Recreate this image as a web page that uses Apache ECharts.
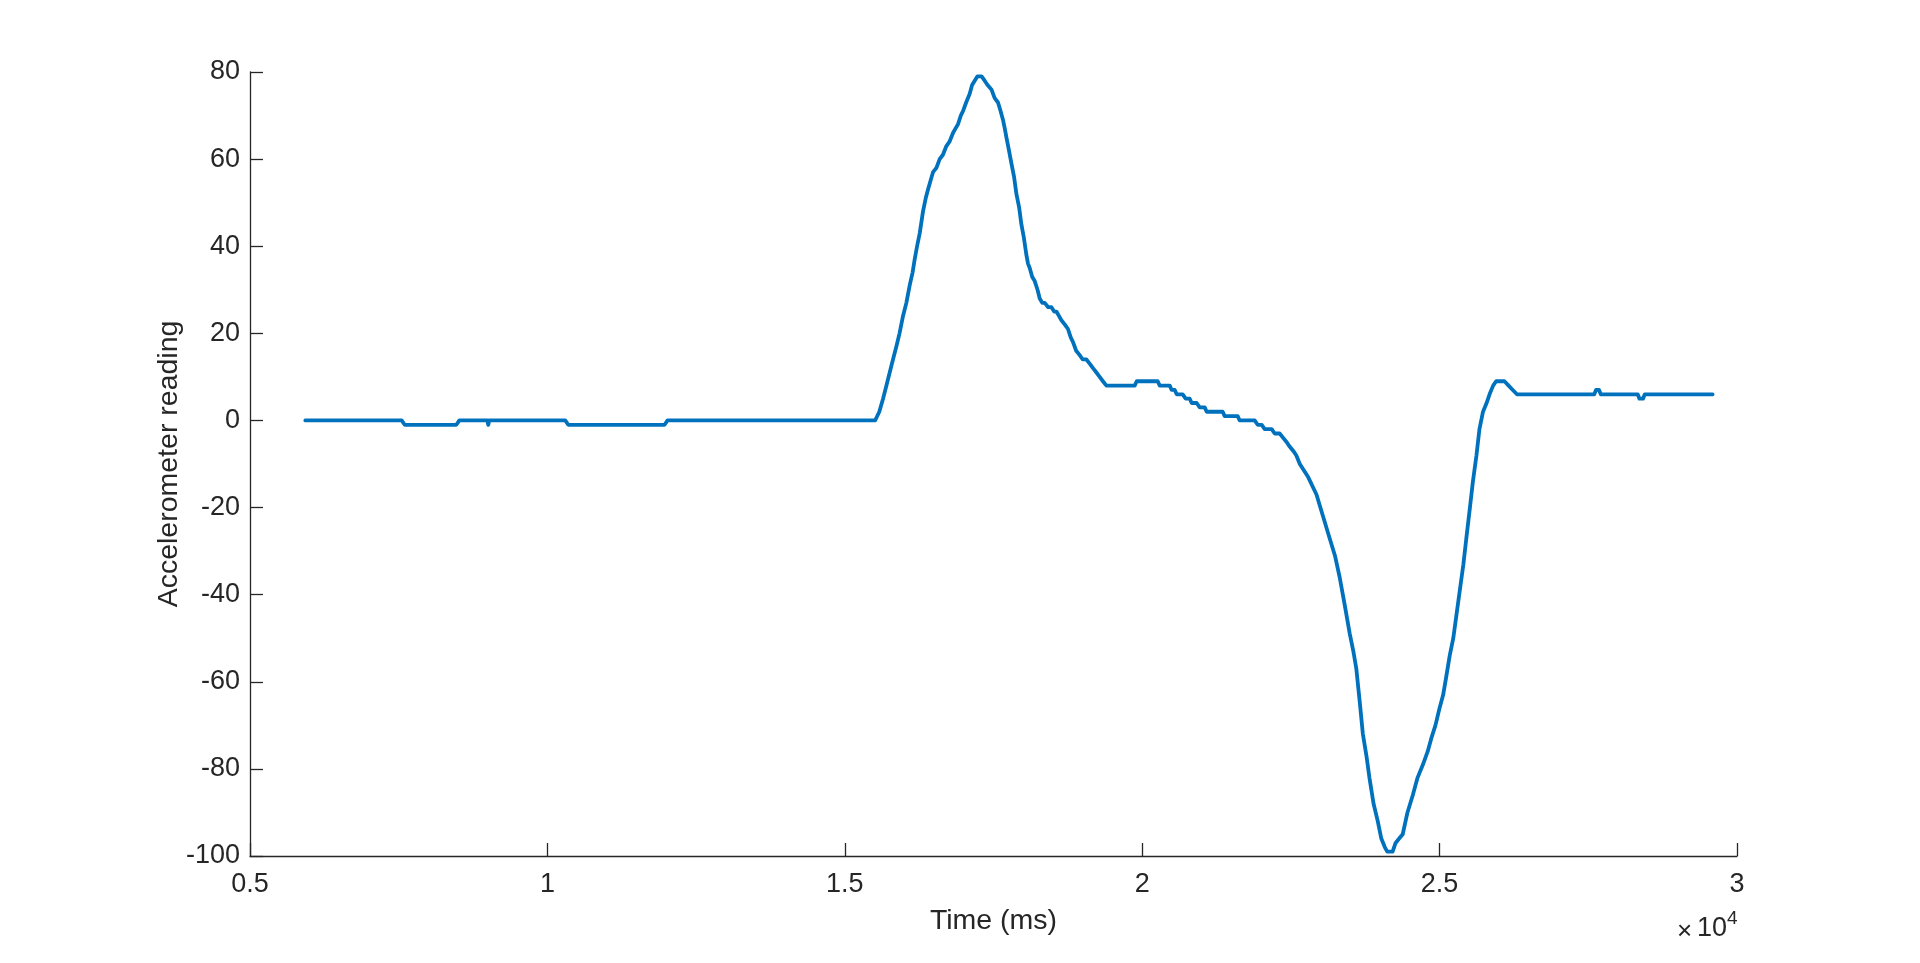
<!DOCTYPE html>
<html>
<head>
<meta charset="utf-8">
<script src="https://cdn.jsdelivr.net/npm/echarts@6/dist/echarts.min.js"></script>
<style>
html,body{margin:0;padding:0;background:#fff;}
#chart{width:1920px;height:963px;}
</style>
</head>
<body>
<div id="chart"></div>
<script>
// Time (ms) of each sample
var times = [
  5930, 7550, 7600, 8470, 8520, 8990, 9006, 9022, 10300, 10350, 11970, 12020, 15510,
  15580, 15643, 15700, 15755, 15810, 15867, 15920, 15979, 16035, 16091, 16140, 16175,
  16215, 16260, 16315, 16360, 16399, 16440, 16483, 16540, 16595, 16650, 16708, 16760,
  16819, 16860, 16903, 16950, 16987, 17040, 17100, 17140, 17184, 17230, 17300, 17352,
  17400, 17465, 17520, 17576, 17620, 17660, 17690, 17717, 17760, 17801, 17845, 17885,
  17930, 17969, 18010, 18053, 18080, 18109, 18150, 18193, 18240, 18277, 18320, 18361,
  18420, 18474, 18520, 18558, 18600, 18642, 18700, 18752, 18800, 18837, 18890, 18949,
  19000, 19062, 19120, 19173, 19230, 19285, 19340, 19398, 19874, 19908, 20261, 20295,
  20463, 20496, 20547, 20580, 20681, 20731, 20799, 20832, 20916, 20967, 21051, 21084,
  21353, 21387, 21605, 21639, 21891, 21941, 22009, 22059, 22177, 22227, 22311, 22370,
  22430, 22479, 22540, 22590, 22650, 22790, 22930, 23040, 23150, 23240, 23320, 23400,
  23490, 23550, 23600, 23660, 23710, 23770, 23820, 23890, 23960, 24020, 24080, 24120,
  24210, 24260, 24320, 24380, 24460, 24550, 24630, 24720, 24800, 24860, 24930, 25000,
  25060, 25110, 25170, 25230, 25290, 25340, 25400, 25450, 25510, 25560, 25620, 25670,
  25730, 25790, 25840, 25900, 25950, 26090, 26160, 26230, 26300, 27600, 27630, 27680,
  27710, 28330, 28360, 28420, 28450, 29590
];
// Accelerometer reading at each sample
var readings = [
  0, 0, -1, -1, 0, 0, -1, 0, 0, -1, -1, 0, 0,
  2, 5, 8, 11, 14, 17, 20, 24, 27, 31, 34, 37,
  40, 43, 48, 51, 53, 55, 57, 58, 60, 61, 63, 64,
  66, 67, 68, 70, 71, 73, 75, 77, 78, 79, 79, 78,
  77, 76, 74, 73, 71, 69, 67, 65, 62, 59, 56, 52,
  49, 45, 42, 38, 36, 35, 33, 32, 30, 28, 27, 27,
  26, 26, 25, 25, 24, 23, 22, 21, 19, 18, 16, 15,
  14, 14, 13, 12, 11, 10, 9, 8, 8, 9, 9, 8,
  8, 7, 7, 6, 6, 5, 5, 4, 4, 3, 3, 2,
  2, 1, 1, 0, 0, -1, -1, -2, -2, -3, -3, -4,
  -5, -6, -7, -8, -10, -13, -17, -22, -27, -31, -36, -42,
  -49, -53, -57, -65, -72, -77, -82, -88, -92, -96, -98, -99,
  -99, -97, -96, -95, -90, -86, -82, -79, -76, -73, -70, -66,
  -63, -59, -54, -50, -44, -39, -33, -27, -20, -14, -8, -2,
  2, 4, 6, 8, 9, 9, 8, 7, 6, 6, 7, 7,
  6, 6, 5, 5, 6, 6
];
var xTicks = [5000, 10000, 15000, 20000, 25000, 30000];
var yTicks = [-100, -80, -60, -40, -20, 0, 20, 40, 60, 80];

var textColor = '#262626';
var fontFam = '"Liberation Sans", Arial, Helvetica, sans-serif';
var series = times.map(function (t, i) { return [t, readings[i]]; });

var chart = echarts.init(document.getElementById('chart'), null, {renderer: 'canvas'});
chart.setOption({
  animation: false,
  backgroundColor: '#ffffff',
  grid: {left: 250, right: 183, top: 72, bottom: 107, containLabel: false},
  xAxis: {
    type: 'value',
    min: xTicks[0], max: xTicks[xTicks.length - 1], interval: 5000,
    name: 'Time (ms)', nameLocation: 'middle', nameGap: 51,
    nameTextStyle: {color: textColor, fontSize: 28.5, fontFamily: fontFam},
    axisLine: {show: true, onZero: false, lineStyle: {color: textColor, width: 1.3}},
    axisTick: {show: true, inside: true, length: 13, lineStyle: {color: textColor, width: 1.3}},
    axisLabel: {color: textColor, fontSize: 27, fontFamily: fontFam, margin: 15,
      formatter: function (v) { return String(v / 10000); }},
    splitLine: {show: false}
  },
  yAxis: {
    type: 'value',
    min: yTicks[0], max: yTicks[yTicks.length - 1], interval: 20,
    name: 'Accelerometer reading', nameLocation: 'middle', nameGap: 66, nameRotate: 90,
    nameMoveOverlap: false,
    nameTextStyle: {color: textColor, fontSize: 28.5, fontFamily: fontFam},
    axisLine: {show: true, onZero: false, lineStyle: {color: textColor, width: 1.3}},
    axisTick: {show: true, inside: true, length: 13, lineStyle: {color: textColor, width: 1.3}},
    axisLabel: {color: textColor, fontSize: 27, fontFamily: fontFam, margin: 10},
    splitLine: {show: false}
  },
  graphic: [
    {type: 'text', x: 1677, y: 932, style: {text: '×', fill: textColor, font: '26px ' + fontFam, textAlign: 'left', textVerticalAlign: 'middle'}},
    {type: 'text', x: 1697, y: 929, style: {text: '10', fill: textColor, font: '27px ' + fontFam, textAlign: 'left', textVerticalAlign: 'middle'}},
    {type: 'text', x: 1727, y: 919, style: {text: '4', fill: textColor, font: '19px ' + fontFam, textAlign: 'left', textVerticalAlign: 'middle'}}
  ],
  series: [{
    type: 'line',
    data: series,
    showSymbol: false,
    symbol: 'none',
    smooth: false,
    clip: false,
    lineStyle: {color: '#0072BD', width: 3.8, join: 'round', cap: 'round'}
  }]
});
</script>
</body>
</html>
